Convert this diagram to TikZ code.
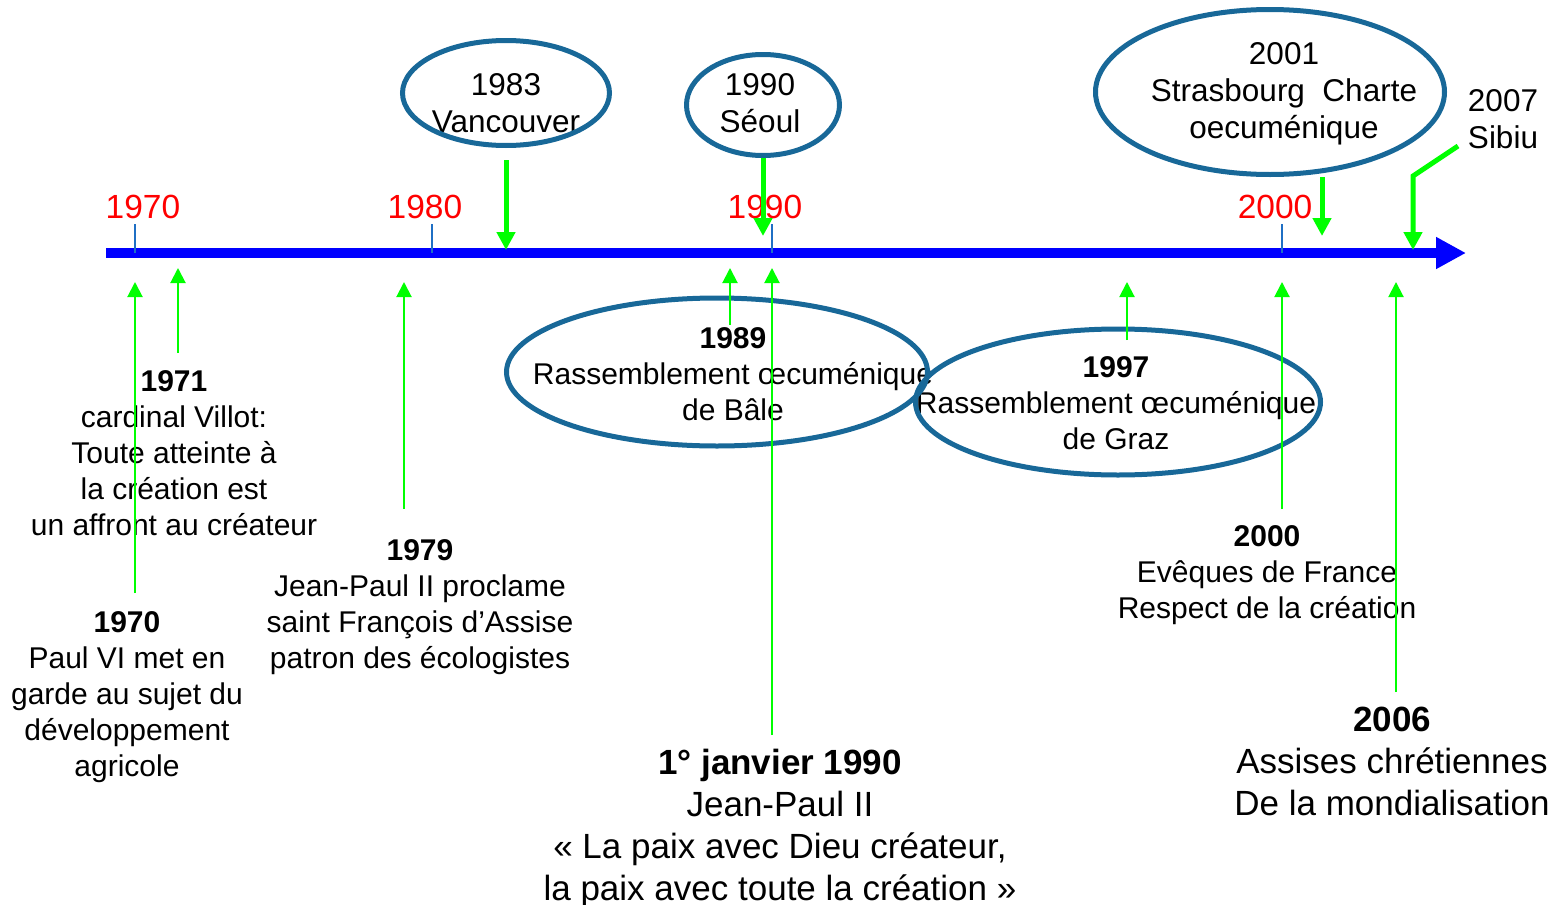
\documentclass[tikz,border=0pt]{standalone}
\usepackage{fontspec}
\setmainfont{Liberation Sans}
\usepackage{xcolor}
\usepackage{tikz}
\usetikzlibrary{arrows.meta}
\usetikzlibrary{shapes.geometric}
\usetikzlibrary{positioning}
\definecolor{axisblue}{RGB}{0,0,255}
\definecolor{tickblue}{RGB}{31,111,196}
\definecolor{ringblue}{RGB}{24,104,152}
\definecolor{lgreen}{RGB}{0,255,0}
\tikzstyle{bubble}=[ellipse,draw=ringblue,line width=5pt,inner sep=0pt]
\tikzstyle{note}=[align=center,inner sep=0pt,font=\fontsize{30}{36}\selectfont]
\tikzstyle{ringnote}=[align=center,inner sep=0pt,font=\fontsize{31.5}{37}\selectfont]
\tikzstyle{bignote}=[align=center,inner sep=0pt,font=\fontsize{35}{42}\selectfont]
\tikzstyle{decade}=[anchor=base,inner sep=0pt,text=red,font=\fontsize{33.5}{40}\selectfont]
\tikzstyle{tick}=[draw=tickblue,line width=2pt]
\tikzstyle{upArr}=[draw=lgreen,line width=2pt,-{Triangle[length=15pt,width=15pt]}]
\tikzstyle{downArr}=[draw=lgreen,line width=5pt,-{Triangle[length=18pt,width=18pt]}]
\tikzstyle{axisArr}=[draw=axisblue,line width=10pt,-{Triangle[length=30pt,width=30pt]}]

\begin{document}
\begin{tikzpicture}[x=1pt,y=-1pt]
\useasboundingbox (0,0) rectangle (1564,905);

	% time axis
	\coordinate (axL) at (106,253);
	\coordinate (axR) at (1466,253);
	\path[axisArr] (axL) -- (axR);

	\path[tick] (135,224) -- (135,253);
	\path[tick] (432,224) -- (432,253);
	\path[tick] (772,224) -- (772,253);
	\path[tick] (1282,224) -- (1282,253);

	\node[decade] (y70) at (143,218) {1970};
	\node[decade] (y80) at (425,218) {1980};
	\node[decade] (y90) at (765,218) {1990};
	\node[decade] (y00) at (1275,218) {2000};

	% events below the axis
	\node[note] (t71) at (174,453) {\textbf{1971}\\cardinal Villot:\\Toute atteinte à\\la création est\\un affront au créateur};
	\node[note] (t70) at (127,697) {\textbf{1970}\\Paul VI met en\\garde au sujet du\\développement\\agricole};
	\node[note] (t79) at (420,607) {\textbf{1979}\\Jean-Paul II proclame\\saint François d’Assise\\patron des écologistes};
	\node[bignote] (tjan) at (780,828) {\textbf{1° janvier 1990}\\Jean-Paul II\\« La paix avec Dieu créateur,\\la paix avec toute la création »};
	\node[note] (t89) at (733,374) {\textbf{1989}\\Rassemblement œcuménique\\de Bâle};
	\node[note] (t97) at (1116,403) {\textbf{1997}\\Rassemblement œcuménique\\de Graz};
	\node[note] (t00) at (1267,575) {\textbf{2000}\\Evêques de France\\Respect de la création};
	\node[bignote] (t06) at (1392,761) {\textbf{2006}\\Assises chrétiennes\\De la mondialisation};

	% events above the axis
	\node[ringnote] (tvan) at (506,103) {1983\\Vancouver};
	\node[ringnote] (tseo) at (760,103) {1990\\Séoul};
	\node[ringnote] (tstr) at (1284,94) {2001\\Strasbourg~~Charte\\oecuménique};
	\node[ringnote] (tsib) at (1503,119) {2007\\Sibiu};

	\node[bubble,minimum width=207,minimum height=105] (vanc) at (506,93) {};
	\node[bubble,minimum width=153,minimum height=101] (seoul) at (763,105) {};
	\node[bubble,minimum width=349,minimum height=165] (stras) at (1270,92) {};
	\node[bubble,minimum width=421,minimum height=148] (bale) at (717,372) {};
	\node[bubble,minimum width=405,minimum height=146] (graz) at (1118,402) {};

	% arrow ends on the axis
	\coordinate (u70) at (135,282);
	\coordinate (u71) at (178,268);
	\coordinate (u79) at (404,282);
	\coordinate (u89) at (730,268);
	\coordinate (ujan) at (772,268);
	\coordinate (u97) at (1127,282);
	\coordinate (u00) at (1282,282);
	\coordinate (u06) at (1396,282);
	\coordinate (f70) at (135,593);
	\coordinate (f71) at (178,353);
	\coordinate (f79) at (404,509);
	\coordinate (f89) at (730,325);
	\coordinate (fjan) at (772,735);
	\coordinate (f97) at (1127,340);
	\coordinate (f00) at (1282,509);
	\coordinate (f06) at (1396,692);

	\path[upArr] (f70) -- (u70);
	\path[upArr] (f71) -- (u71);
	\path[upArr] (f79) -- (u79);
	\path[upArr] (f89) -- (u89);
	\path[upArr] (fjan) -- (ujan);
	\path[upArr] (f97) -- (u97);
	\path[upArr] (f00) -- (u00);
	\path[upArr] (f06) -- (u06);

	\coordinate (d83) at (506,250);
	\coordinate (d90) at (763,236);
	\coordinate (d01) at (1322,236);
	\coordinate (d07) at (1413,250);
	\coordinate (k07) at (1458,146);

	\path[downArr] ([yshift=-12pt]vanc.south) -- (d83);
	\path[downArr] (seoul.south) -- (d90);
	\path[downArr] (stras.south -| d01) -- (d01);
	\path[downArr] (k07) -- (1413,176) -- (d07);
\end{tikzpicture}
\end{document}
